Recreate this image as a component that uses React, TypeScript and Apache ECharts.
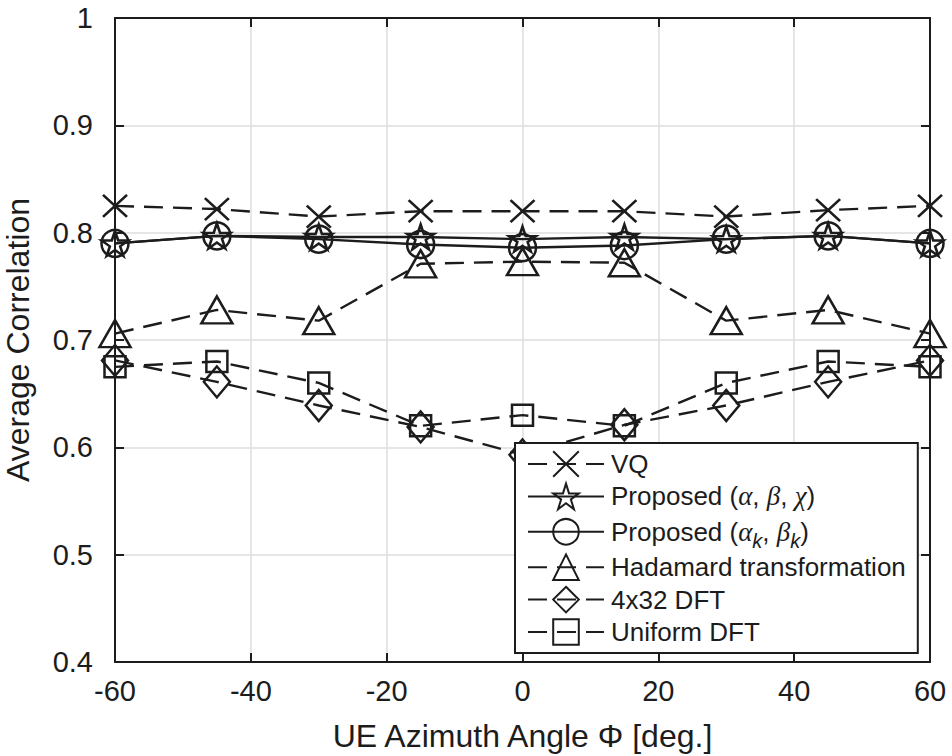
import React, { useEffect, useRef } from "react";
import * as echarts from "echarts";

const angles = [-60, -45, -30, -15, 0, 15, 30, 45, 60];
const vq = [0.825, 0.822, 0.815, 0.82, 0.82, 0.82, 0.815, 0.821, 0.825];
const propABC = [0.79, 0.797, 0.796, 0.796, 0.794, 0.796, 0.794, 0.797, 0.79];
const propAkBk = [0.79, 0.797, 0.794, 0.789, 0.786, 0.788, 0.794, 0.797, 0.79];
const hadamard = [0.706, 0.728, 0.718, 0.771, 0.773, 0.772, 0.718, 0.728, 0.706];
const dft4x32 = [0.681, 0.661, 0.639, 0.619, 0.593, 0.621, 0.639, 0.661, 0.681];
const uniformDft = [0.675, 0.68, 0.66, 0.62, 0.63, 0.62, 0.66, 0.68, 0.675];

const seriesNames = [
  "VQ",
  "Proposed (α, β, χ)",
  "Proposed (αk, βk)",
  "Hadamard transformation",
  "4x32 DFT",
  "Uniform DFT",
];
const xTicks = [-60, -40, -20, 0, 20, 40, 60];

const INK = "#1c1c1c";
const FONT = "'Liberation Sans', Arial, Helvetica, sans-serif";

const X_PATH = "path://M0,0L10,10M10,0L0,10";
const STAR_PATH =
  "path://M10,0L12.245,6.91L19.51,6.91L13.633,11.18L15.878,18.09L10,13.82L4.122,18.09L6.367,11.18L0.49,6.91L7.755,6.91Z";

export default function App() {
  const ref = useRef<HTMLDivElement>(null);

  useEffect(() => {
    if (!ref.current) return;
    const chart = echarts.init(ref.current, undefined, { renderer: "svg" });

    const pairs = (ys: number[]) => angles.map((a, i) => [a, ys[i]]);

    const mk = (
      name: string,
      ys: number[],
      symbol: string,
      size: number | number[],
      dashed: boolean
    ) => ({
      name,
      type: "line",
      data: pairs(ys),
      symbol,
      symbolSize: size,
      showSymbol: true,
      lineStyle: { color: INK, width: 2.4, type: dashed ? [19, 10] : "solid" },
      itemStyle: { color: "rgba(255,255,255,0)", borderColor: INK, borderWidth: 2.5 },
      emphasis: { disabled: true },
      z: 3,
    });

    const axisLine = { show: true, onZero: false, lineStyle: { color: INK, width: 2 } };
    const axisTick = { show: true, inside: true, length: 9, lineStyle: { color: INK, width: 2 } };

    const option: any = {
      animation: false,
      backgroundColor: "#ffffff",
      textStyle: { fontFamily: FONT, color: INK },
      grid: {
        left: 115,
        right: 22,
        top: 18,
        bottom: 94,
        containLabel: false,
        outerBoundsMode: "none",
      },
      xAxis: [
        {
          type: "value",
          min: -60,
          max: 60,
          interval: 20,
          position: "bottom",
          name: "UE Azimuth Angle Φ [deg.]",
          nameLocation: "middle",
          nameGap: 58,
          nameTextStyle: { fontSize: 32, color: INK, fontFamily: FONT },
          axisLine,
          axisTick,
          axisLabel: {
            fontSize: 29,
            color: INK,
            margin: 14,
            fontFamily: FONT,
            customValues: xTicks,
          },
          splitLine: { show: true, lineStyle: { color: "#dedede", width: 1.5 } },
        },
        {
          type: "value",
          min: -60,
          max: 60,
          interval: 20,
          position: "top",
          axisLine,
          axisTick,
          axisLabel: { show: false },
          splitLine: { show: false },
        },
      ],
      yAxis: [
        {
          type: "value",
          min: 0.4,
          max: 1,
          interval: 0.1,
          position: "left",
          name: "Average Correlation",
          nameLocation: "middle",
          nameGap: 81,
          nameTextStyle: { fontSize: 32, color: INK, fontFamily: FONT },
          axisLine,
          axisTick,
          axisLabel: {
            fontSize: 29,
            color: INK,
            margin: 22,
            fontFamily: FONT,
            formatter: (v: number) => String(Math.round(v * 10) / 10),
          },
          splitLine: { show: true, lineStyle: { color: "#dedede", width: 1.5 } },
        },
        {
          type: "value",
          min: 0.4,
          max: 1,
          interval: 0.1,
          position: "right",
          axisLine,
          axisTick,
          axisLabel: { show: false },
          splitLine: { show: false },
        },
      ],
      legend: {
        orient: "vertical",
        left: 515,
        top: 443,
        width: 403,
        padding: [5, 12, 5, 12],
        itemWidth: 76,
        itemHeight: 32,
        itemGap: 0.4,
        backgroundColor: "#ffffff",
        borderColor: INK,
        borderWidth: 2,
        borderRadius: 0,
        data: seriesNames,
        formatter: (name: string) => {
          if (name === seriesNames[1]) return "Proposed ({g|α}, {g|β}, {g|χ})";
          if (name === seriesNames[2]) return "Proposed ({g|α}{s|k}, {g|β}{s|k})";
          return name;
        },
        textStyle: {
          fontSize: 26,
          color: INK,
          fontFamily: FONT,
          lineHeight: 32,
          padding: [0, 0, 0, 2],
          rich: {
            g: {
              fontSize: 27,
              fontStyle: "italic",
              fontFamily: "'Liberation Serif', 'DejaVu Serif', serif",
              color: INK,
              lineHeight: 32,
            },
            s: {
              fontSize: 20,
              fontStyle: "italic",
              fontFamily: FONT,
              color: INK,
              lineHeight: 16,
              padding: [18, 0, 0, 0],
            },
          },
        },
      },
      series: [
        mk(seriesNames[0], vq, X_PATH, [24, 22], true),
        mk(seriesNames[1], propABC, STAR_PATH, [27, 25], false),
        mk(seriesNames[2], propAkBk, "circle", 27, false),
        mk(seriesNames[3], hadamard, "triangle", [31, 27], true),
        mk(seriesNames[4], dft4x32, "diamond", [26, 31], true),
        mk(seriesNames[5], uniformDft, "rect", [21, 21], true),
      ],
    };

    chart.setOption(option);
    return () => chart.dispose();
  }, []);

  return (
    <div
      ref={ref}
      style={{ position: "absolute", left: 0, top: 0, width: 952, height: 756, background: "#fff" }}
    />
  );
}
